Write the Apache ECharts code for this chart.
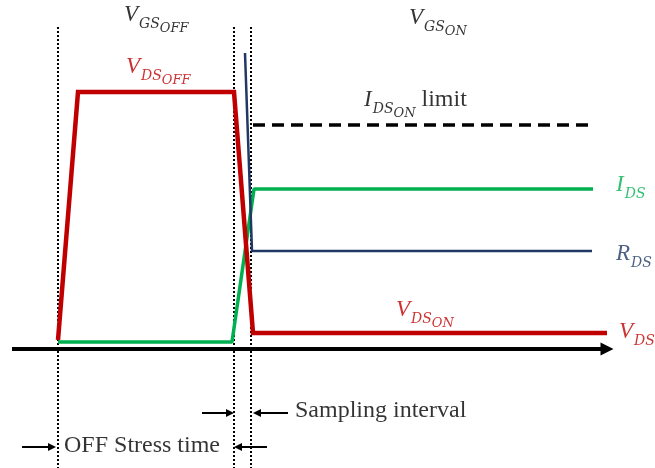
<!DOCTYPE html>
<html><head><meta charset="utf-8">
<script src="https://cdn.jsdelivr.net/npm/echarts@6/dist/echarts.min.js"></script>
<style>html,body{margin:0;padding:0;background:#fff}#c{width:655px;height:468px}</style>
</head><body><div id="c"></div>
<script>
// Time axis in arbitrary units; signal levels in arbitrary units (0 = time axis)
const vdsTime = [58, 78, 234, 253, 607];
const vdsLevel = [9, 257, 257, 16, 16];
const idsTime = [58, 232, 254, 593];
const idsLevel = [7, 7, 160, 160];
const rdsTime = [245, 252, 592];
const rdsLevel = [296, 98, 98];
const limitTime = [253, 595];
const limitLevel = [224, 224];
const markerTimes = [58, 234, 251];
const markerLevels = [322, -119];
const axisTimes = [12, 607];
const samplingArrowTimes = [[202, 230], [288, 257]];
const samplingArrowLevel = -64;
const stressArrowTimes = [[22, 52], [267, 238]];
const stressArrowLevel = -98;
const labelTexts = [
  '{b|V}{s|GS}{ss|OFF}',
  '{b|V}{s|GS}{ss|ON}',
  '{b|V}{s|DS}{ss|OFF}',
  '{b|I}{s|DS}{ss|ON}{t| limit}',
  '{b|I}{s|DS}',
  '{b|R}{s|DS}',
  '{b|V}{s|DS}{ss|ON}',
  '{b|V}{s|DS}',
  '{t|Sampling interval}',
  '{t|OFF Stress time}'
];
const labelTimes = [124, 409, 126, 364, 616, 616, 396, 619, 295, 64];
const labelLevels = [346, 343, 294, 261, 176, 107, 51, 29, -50, -85];

const RED = '#c00000', GREEN = '#00b050', BLUE = '#1f3864', BLACK = '#000000';
const labelColors = [BLACK, BLACK, RED, BLACK, GREEN, BLUE, RED, RED, BLACK, BLACK];

const zip = (a, b) => a.map((v, i) => [v, b[i]]);

const rich = {
  b: {fontFamily: 'Liberation Serif', fontStyle: 'italic', fontSize: 23, lineHeight: 24, verticalAlign: 'top'},
  s: {fontFamily: 'DejaVu Serif', fontStyle: 'italic', fontSize: 14, lineHeight: 14, padding: [14, 0, 0, 1], verticalAlign: 'top'},
  ss: {fontFamily: 'DejaVu Serif', fontStyle: 'italic', fontSize: 13, lineHeight: 13, padding: [19, 0, 0, 0], verticalAlign: 'top'},
  t: {fontFamily: 'Liberation Serif', fontSize: 24, lineHeight: 24, verticalAlign: 'top'}
};

const chart = echarts.init(document.getElementById('c'), null, {renderer: 'canvas'});
chart.setOption({
  animation: false,
  backgroundColor: '#ffffff',
  grid: {left: 0, right: 0, top: 0, bottom: 0},
  xAxis: {type: 'value', min: 0, max: 655, show: false},
  yAxis: {type: 'value', min: -119, max: 349, show: false},
  series: [
    {type: 'lines', coordinateSystem: 'cartesian2d', silent: true, z: 1,
     data: markerTimes.map(t => ({coords: [[t, markerLevels[0]], [t, markerLevels[1]]]})),
     lineStyle: {color: '#000', width: 2, type: [2, 2], opacity: 1}},
    {type: 'line', name: 'VDS', data: zip(vdsTime, vdsLevel), symbol: 'none', z: 3,
     lineStyle: {color: RED, width: 4.5, join: 'miter'}},
    {type: 'line', name: 'IDS', data: zip(idsTime, idsLevel), symbol: 'none', z: 2,
     lineStyle: {color: GREEN, width: 3.5}},
    {type: 'line', name: 'RDS', data: zip(rdsTime, rdsLevel), symbol: 'none', z: 4,
     lineStyle: {color: BLUE, width: 2.5}},
    {type: 'line', name: 'limit', data: zip(limitTime, limitLevel), symbol: 'none', z: 2,
     lineStyle: {color: BLACK, width: 3.5, type: [12, 7]}},
    {type: 'lines', coordinateSystem: 'cartesian2d', silent: true, z: 5,
     data: [{coords: [[axisTimes[0], 0], [axisTimes[1], 0]]}],
     symbol: ['none', 'triangle'], symbolSize: 13,
     lineStyle: {color: BLACK, width: 4, opacity: 1}},
    {type: 'lines', coordinateSystem: 'cartesian2d', silent: true, z: 5,
     data: samplingArrowTimes.map(p => ({coords: [[p[0], samplingArrowLevel], [p[1], samplingArrowLevel]]}))
       .concat(stressArrowTimes.map(p => ({coords: [[p[0], stressArrowLevel], [p[1], stressArrowLevel]]}))),
     symbol: ['none', 'triangle'], symbolSize: 8,
     lineStyle: {color: BLACK, width: 2, opacity: 1}},
    {type: 'scatter', silent: true, symbolSize: 0, z: 6,
     data: labelTexts.map((txt, i) => ({
       value: [labelTimes[i], labelLevels[i]],
       label: {show: true, position: [0, 0], align: 'left', verticalAlign: 'top',
               formatter: txt, color: labelColors[i],
               rich: Object.fromEntries(Object.entries(rich).map(([k, v]) => [k, Object.assign({color: labelColors[i]}, v)]))}
     }))}
  ]
});
</script></body></html>
